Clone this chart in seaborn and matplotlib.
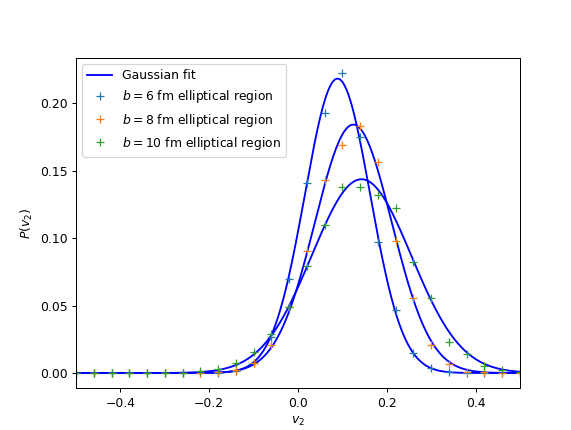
import numpy as np
import matplotlib
matplotlib.use("Agg")
import matplotlib.pyplot as plt
import seaborn as sns

# v2 bin centres (bin width 0.04)
v2_bins = [-0.50, -0.46, -0.42, -0.38, -0.34, -0.30, -0.26, -0.22, -0.18, -0.14,
           -0.10, -0.06, -0.02, 0.02, 0.06, 0.10, 0.14, 0.18, 0.22, 0.26,
           0.30, 0.34, 0.38, 0.42, 0.46, 0.50]

# measured P(v2) per impact parameter
p_b6 = [0, 0, 0, 0, 0, 0, 0, 0, 0.0003, 0.0015,
        0.0075, 0.027, 0.070, 0.141, 0.193, 0.2225, 0.175, 0.097, 0.047, 0.015,
        0.0035, 0.001, 0.0002, 0, 0, 0]
p_b8 = [0, 0, 0, 0, 0, 0, 0, 0.0003, 0.0005, 0.0022,
        0.0076, 0.0207, 0.049, 0.0906, 0.143, 0.1694, 0.1835, 0.1565, 0.098, 0.0553,
        0.0207, 0.0067, 0.001, 0.0005, 0, 0]
p_b10 = [0, 0, 0, 0, 0, 0, 0, 0.0015, 0.003, 0.0072,
         0.0158, 0.029, 0.0487, 0.0795, 0.1096, 0.138, 0.138, 0.132, 0.1227, 0.082,
         0.0553, 0.0232, 0.0138, 0.0052, 0.0022, 0.0005]

labels = ["$b=6$ fm elliptical region", "$b=8$ fm elliptical region",
          "$b=10$ fm elliptical region"]

# Gaussian fit parameters (peak height, mean, width)
fit_peak = [0.2183, 0.1842, 0.1437]
fit_mean = [0.089, 0.1246, 0.143]
fit_sigma = [0.0735, 0.0866, 0.112]

fig = plt.figure(figsize=(571 / 89.4, 430 / 89.4), dpi=89.4)
ax = fig.add_axes([0.1331, 0.0977, 0.7776, 0.7674])

x_fine = np.linspace(-0.5, 0.5, 500)
for i in range(3):
    curve = fit_peak[i] * np.exp(-(x_fine - fit_mean[i]) ** 2 / (2 * fit_sigma[i] ** 2))
    sns.lineplot(x=x_fine, y=curve, color="b", linewidth=1.5, ax=ax,
                 label="Gaussian fit" if i == 0 else None, legend=False)

series = [p_b6, p_b8, p_b10]
colors = ["C0", "C1", "C2"]
for vals, lab, c in zip(series, labels, colors):
    sns.lineplot(x=v2_bins, y=vals, marker="+", linestyle="", markersize=6,
                 markeredgewidth=1.0, markeredgecolor=c, color=c, label=lab,
                 ax=ax, legend=False)

ax.set_xlim(-0.5, 0.5)
ax.set_ylim(-0.0111, 0.2336)
ax.set_xlabel("$v_2$")
ax.set_ylabel("$P(v_2)$")
ax.legend(loc="upper left")

fig.savefig("out.png", dpi=89.4)
